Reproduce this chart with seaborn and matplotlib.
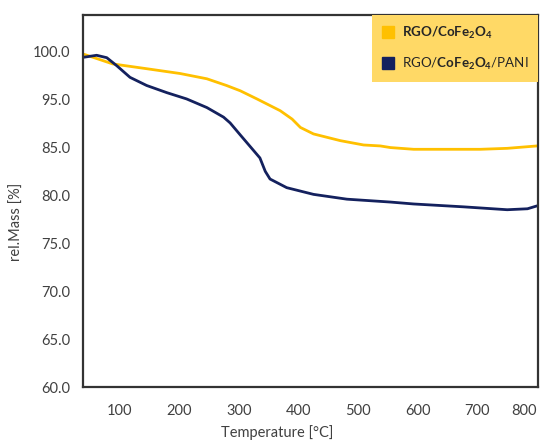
import numpy as np
import pandas as pd
import matplotlib
matplotlib.use("Agg")
import matplotlib.pyplot as plt
from matplotlib.lines import Line2D
import seaborn as sns

# ---------------- data ----------------
temp_rgo = [40, 88, 145, 201, 246, 279, 302, 330, 369, 389, 403, 425, 470, 509,
            537, 554, 593, 705, 750, 800]
mass_rgo = [99.7, 98.7, 98.2, 97.7, 97.15, 96.45, 95.9, 95.05, 92.65, 90.9, 89.15,
            87.8, 86.4, 85.5, 85.3, 84.98, 84.8, 84.8, 84.9, 85.3]

temp_pani = [40, 61, 78, 95, 117, 145, 179, 212, 246, 274, 285, 302, 335, 344,
             352, 380, 425, 481, 554, 593, 677, 750, 784, 800]
mass_pani = [99.4, 99.6, 99.35, 98.5, 97.3, 96.45, 95.7, 95.05, 93.3, 91.3, 90.1,
             87.6, 83.9, 82.5, 81.7, 80.8, 80.1, 79.6, 79.3, 79.1, 78.8, 78.5,
             78.6, 78.9]

series_names = [r"$\mathbf{RGO/CoFe_2O_4}$", r"RGO/$\mathbf{CoFe_2O_4}$/PANI"]
series_colors = ["#FFC000", "#14215E"]

xticks = [100, 200, 300, 400, 500, 600, 700, 800]
ytick_values = [60, 65, 70, 75, 80, 85, 95, 100]
ytick_labels = ["60.0", "65.0", "70.0", "75.0", "80.0", "85.0", "95.0", "100.0"]

# ---------------- style ----------------
sns.set_theme(style="white")
plt.rcParams["font.family"] = ["Lato", "DejaVu Sans"]
plt.rcParams["mathtext.fontset"] = "custom"
plt.rcParams["mathtext.rm"] = "Lato"
plt.rcParams["mathtext.bf"] = "Lato:bold"
plt.rcParams["mathtext.it"] = "Lato:italic"

df = pd.concat([
    pd.DataFrame({"Temperature": temp_rgo, "Mass": mass_rgo, "Sample": series_names[0]}),
    pd.DataFrame({"Temperature": temp_pani, "Mass": mass_pani, "Sample": series_names[1]}),
], ignore_index=True)

fig = plt.figure(figsize=(5.42, 4.41), dpi=100)
ax = fig.add_axes([0.153, 0.122, 0.840, 0.844])

sns.lineplot(data=df, x="Temperature", y="Mass", hue="Sample",
             palette=dict(zip(series_names, series_colors)),
             linewidth=2.0, legend=False, ax=ax, sort=False)

# axis whose tick labels are evenly spaced (90 is not labelled)
scale_vals = ytick_values + [105]
scale_pos = list(range(len(scale_vals)))
fwd = lambda v: np.interp(v, scale_vals, scale_pos)
inv = lambda p: np.interp(p, scale_pos, scale_vals)
ax.set_yscale("function", functions=(fwd, inv))
ax.set_ylim(60, 103.8)
ax.set_xlim(38, 802)

ax.set_yticks(ytick_values)
ax.set_yticklabels(ytick_labels)
ax.set_xticks(xticks)
ax.set_xticklabels([str(v) for v in xticks])
ax.minorticks_off()
ax.tick_params(axis="both", length=0, labelsize=10.5, colors="#404040")
ax.tick_params(axis="y", pad=9)
ax.tick_params(axis="x", pad=12)
ax.get_xticklabels()[-1].set_horizontalalignment("right")

for s in ax.spines.values():
    s.set_visible(True)
    s.set_color("#333333")
    s.set_linewidth(1.6)

ax.set_xlabel("Temperature [°C]", fontsize=10.5, color="#404040")
ax.set_ylabel("rel.Mass [%]", fontsize=10.5, color="#404040")
ax.xaxis.set_label_coords(0.426, -0.102)
ax.yaxis.set_label_coords(-0.13, 0.445)

handles = [Line2D([], [], marker="s", linestyle="", markersize=8.5,
                  color=c) for c in series_colors]
leg = ax.legend(handles, series_names, loc="upper right", frameon=True,
                fancybox=False, framealpha=1, fontsize=9.6,
                borderpad=0.75, labelspacing=1.1, handletextpad=0.6,
                handlelength=0.9, borderaxespad=0.0)
leg.get_frame().set_facecolor("#FFD966")
leg.get_frame().set_linewidth(0)
for t in leg.get_texts():
    t.set_color("#262626")

fig.savefig("out.png", dpi=100)
